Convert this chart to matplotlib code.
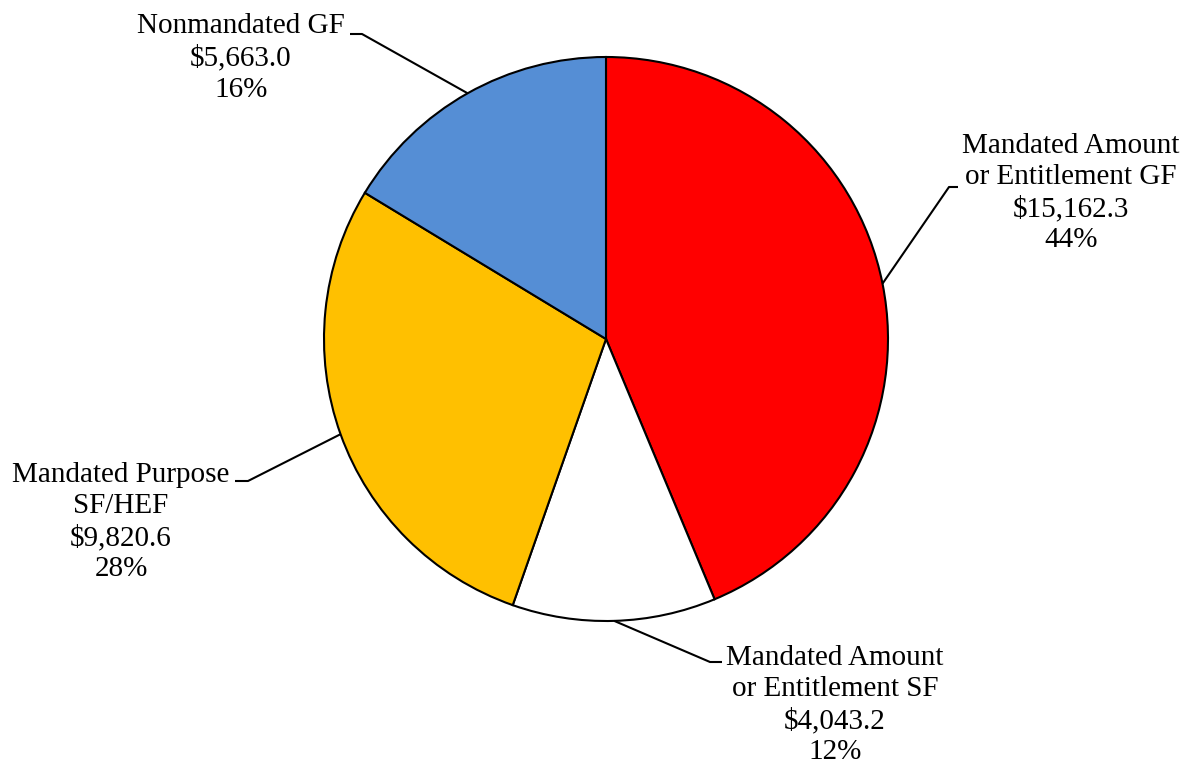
import numpy as np
import matplotlib
matplotlib.use("Agg")
import matplotlib.pyplot as plt

plt.rcParams['font.family'] = ['Liberation Serif', 'DejaVu Serif']

labels = ['Mandated Amount\nor Entitlement GF', 'Mandated Amount\nor Entitlement SF',
          'Mandated Purpose\nSF/HEF', 'Nonmandated GF']
values = [15162.3, 4043.2, 9820.6, 5663.0]
colors = ['#FF0000', '#FFFFFF', '#FFC000', '#558ED5']

# layout in pixel units (y measured from the bottom)
W, H = 1188, 770
cx, cy, r = 606, H - 339, 282
text_pos = [(1071, H - 193), (835, H - 705), (121, H - 522), (241, H - 58)]
elbows = [((949, H - 187), (958, H - 187)),
          ((710, H - 662), (722, H - 662)),
          ((248, H - 481), (235, H - 481)),
          ((362, H - 34), (350, H - 34))]

fig = plt.figure(figsize=(W / 100, H / 100), dpi=100)
ax = fig.add_axes([0, 0, 1, 1])

wedges, _ = ax.pie(values, colors=colors, startangle=90, counterclock=False,
                   center=(cx, cy), radius=r, frame=True,
                   wedgeprops=dict(edgecolor='black', linewidth=1.5))
ax.set_xlim(0, W)
ax.set_ylim(0, H)
ax.axis('off')

total = sum(values)
for w, lab, v, (tx, ty), (elb, end) in zip(wedges, labels, values, text_pos, elbows):
    mid = np.deg2rad((w.theta1 + w.theta2) / 2)
    px, py = cx + r * np.cos(mid), cy + r * np.sin(mid)
    ax.plot([px, elb[0], end[0]], [py, elb[1], end[1]], color='black', lw=1.5,
            solid_capstyle='butt')
    txt = f"{lab}\n${v:,.1f}\n{round(v / total * 100):.0f}%"
    ax.text(tx, ty, txt, ha='center', va='center', fontsize=21, linespacing=1.27)

fig.savefig('out.png', dpi=100)
